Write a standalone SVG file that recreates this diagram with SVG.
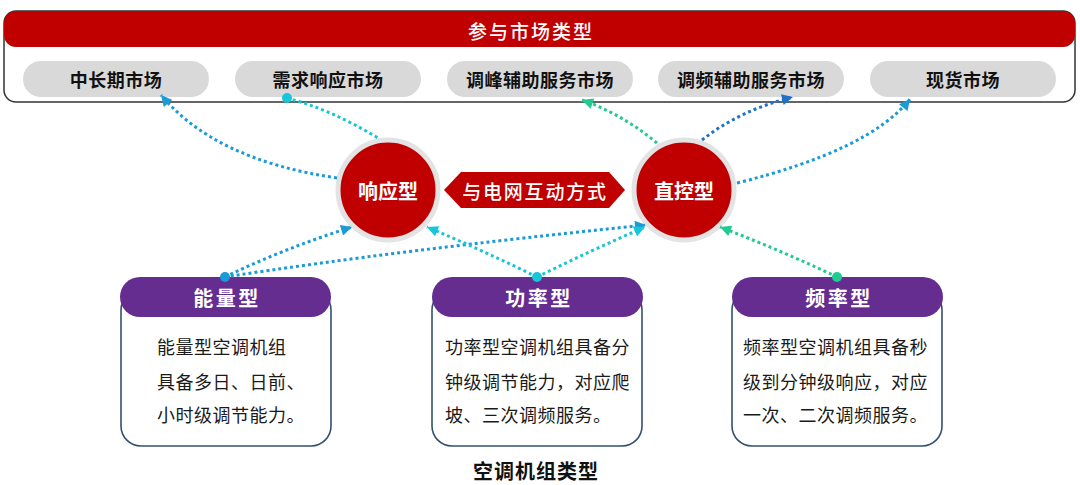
<svg xmlns="http://www.w3.org/2000/svg" width="1080" height="485" viewBox="0 0 1080 485">
<style>
.cjk{font-family:"Noto Sans CJK SC","Noto Sans",sans-serif}
.pill{fill:#d9d9d9}
.pilltxt{font-size:18px;font-weight:700;fill:#111;text-anchor:middle;dominant-baseline:central;letter-spacing:0.5px}
.circ{fill:#c00000;stroke:#e3e3e3;stroke-width:5}
.circtxt{font-size:20px;font-weight:700;fill:#fff;text-anchor:middle;dominant-baseline:central}
.body{fill:#fff;stroke:#34506f;stroke-width:1.6}
.head{fill:#662d91}
.headtxt{font-size:20px;font-weight:700;fill:#fff;text-anchor:middle;dominant-baseline:central;letter-spacing:2.5px}
.bodytxt{font-size:18px;fill:#1a1a1a;letter-spacing:0.5px}
.conn{fill:none;stroke-width:3;stroke-dasharray:3 3}
.blue{stroke:#1a9ad6}
.cyan{stroke:#17c6d8}
.green{stroke:#1fcb8f}
.dblue{stroke:#1f72c6}
</style>
<defs>
<marker id="aBlue" viewBox="0 0 10 10" refX="10" refY="5" markerWidth="12" markerHeight="11" markerUnits="userSpaceOnUse" orient="auto"><path d="M0,0 L10,5 L0,10 z" fill="#1a9ad6"/></marker>
<marker id="aCyan" viewBox="0 0 10 10" refX="10" refY="5" markerWidth="12" markerHeight="11" markerUnits="userSpaceOnUse" orient="auto"><path d="M0,0 L10,5 L0,10 z" fill="#17c6d8"/></marker>
<marker id="aGreen" viewBox="0 0 10 10" refX="10" refY="5" markerWidth="12" markerHeight="11" markerUnits="userSpaceOnUse" orient="auto"><path d="M0,0 L10,5 L0,10 z" fill="#1fcb8f"/></marker>
<marker id="aDblue" viewBox="0 0 10 10" refX="10" refY="5" markerWidth="12" markerHeight="11" markerUnits="userSpaceOnUse" orient="auto"><path d="M0,0 L10,5 L0,10 z" fill="#1f72c6"/></marker>
</defs>
<rect width="1080" height="485" fill="#fff"/>

<g id="market-types">
<rect x="4" y="11" width="1071" height="91" rx="12" fill="#fff" stroke="#333" stroke-width="1.5"/>
<rect x="4" y="11" width="1071" height="36" rx="12" fill="#c00000"/>
<text class="cjk" x="531" y="30" font-size="19" font-weight="500" fill="#fff" text-anchor="middle" dominant-baseline="central" letter-spacing="2">参与市场类型</text>
</g>
<g id="m1"><rect class="pill" x="23" y="61" width="186" height="36" rx="18"/><text class="cjk pilltxt" x="116" y="79">中长期市场</text></g>
<g id="m2"><rect class="pill" x="235" y="61" width="186" height="36" rx="18"/><text class="cjk pilltxt" x="328" y="79">需求响应市场</text></g>
<g id="m3"><rect class="pill" x="447" y="61" width="186" height="36" rx="18"/><text class="cjk pilltxt" x="540" y="79">调峰辅助服务市场</text></g>
<g id="m4"><rect class="pill" x="658" y="61" width="186" height="36" rx="18"/><text class="cjk pilltxt" x="751" y="79">调频辅助服务市场</text></g>
<g id="m5"><rect class="pill" x="870" y="61" width="186" height="36" rx="18"/><text class="cjk pilltxt" x="963" y="79">现货市场</text></g>

<g id="interaction">
<path d="M444,190 L461,172 L609,172 L625,190 L609,208 L461,208 z" fill="#c00000"/>
<text class="cjk" x="535" y="190" font-size="19" font-weight="500" fill="#fff" text-anchor="middle" dominant-baseline="central" letter-spacing="1.8">与电网互动方式</text>
</g>
<g id="response"><circle class="circ" cx="388" cy="190" r="50"/><text class="cjk circtxt" x="388" y="190">响应型</text></g>
<g id="direct"><circle class="circ" cx="684" cy="190" r="50"/><text class="cjk circtxt" x="684" y="190">直控型</text></g>

<g id="energy">
<rect class="body" x="121" y="290" width="210" height="156" rx="20"/>
<rect class="head" x="120" y="277" width="211" height="40" rx="20"/>
<text class="cjk headtxt" x="227" y="297">能量型</text>
<text class="cjk bodytxt" x="157" y="354">能量型空调机组</text>
<text class="cjk bodytxt" x="157" y="389">具备多日、日前、</text>
<text class="cjk bodytxt" x="157" y="422">小时级调节能力。</text>
</g>
<g id="power">
<rect class="body" x="432" y="290" width="210" height="156" rx="20"/>
<rect class="head" x="432" y="277" width="211" height="40" rx="20"/>
<text class="cjk headtxt" x="539" y="297">功率型</text>
<text class="cjk bodytxt" x="445" y="354">功率型空调机组具备分</text>
<text class="cjk bodytxt" x="445" y="389">钟级调节能力，对应爬</text>
<text class="cjk bodytxt" x="445" y="422">坡、三次调频服务。</text>
</g>
<g id="frequency">
<rect class="body" x="732" y="290" width="210" height="156" rx="20"/>
<rect class="head" x="732" y="277" width="211" height="40" rx="20"/>
<text class="cjk headtxt" x="839" y="297">频率型</text>
<text class="cjk bodytxt" x="743" y="354">频率型空调机组具备秒</text>
<text class="cjk bodytxt" x="743" y="389">级到分钟级响应，对应</text>
<text class="cjk bodytxt" x="743" y="422">一次、二次调频服务。</text>
</g>
<g id="caption"><text class="cjk" x="536" y="470" font-size="20" font-weight="700" fill="#111" text-anchor="middle" dominant-baseline="central" letter-spacing="1">空调机组类型</text></g>

<g id="connectors">
<path class="conn blue" d="M337,178 Q215,160 161,95" marker-end="url(#aBlue)"/>
<path class="conn cyan" d="M287,98 Q332,110 378,138"/>
<path class="conn green" d="M657,143 Q622,114 582,100" marker-end="url(#aGreen)"/>
<path class="conn dblue" d="M702,140 Q740,110 793,97" marker-end="url(#aDblue)"/>
<path class="conn blue" d="M737,183 Q870,150 910,99" marker-end="url(#aBlue)"/>
<path class="conn blue" d="M225,277 Q285,248 352,227" marker-end="url(#aBlue)"/>
<path class="conn blue" d="M225,277 Q400,250 646,225" marker-end="url(#aBlue)"/>
<path class="conn cyan" d="M537,277 Q482,250 427,227" marker-end="url(#aCyan)"/>
<path class="conn cyan" d="M537,277 Q592,250 645,227" marker-end="url(#aCyan)"/>
<path class="conn green" d="M837,277 Q780,250 720,227" marker-end="url(#aGreen)"/>
<circle cx="287" cy="98" r="5" fill="#17c6d8"/>
<circle cx="225" cy="277" r="5" fill="#1a9ad6"/>
<circle cx="537" cy="277" r="5" fill="#17c6d8"/>
<circle cx="837" cy="277" r="5" fill="#1fcb8f"/>
</g>
</svg>
